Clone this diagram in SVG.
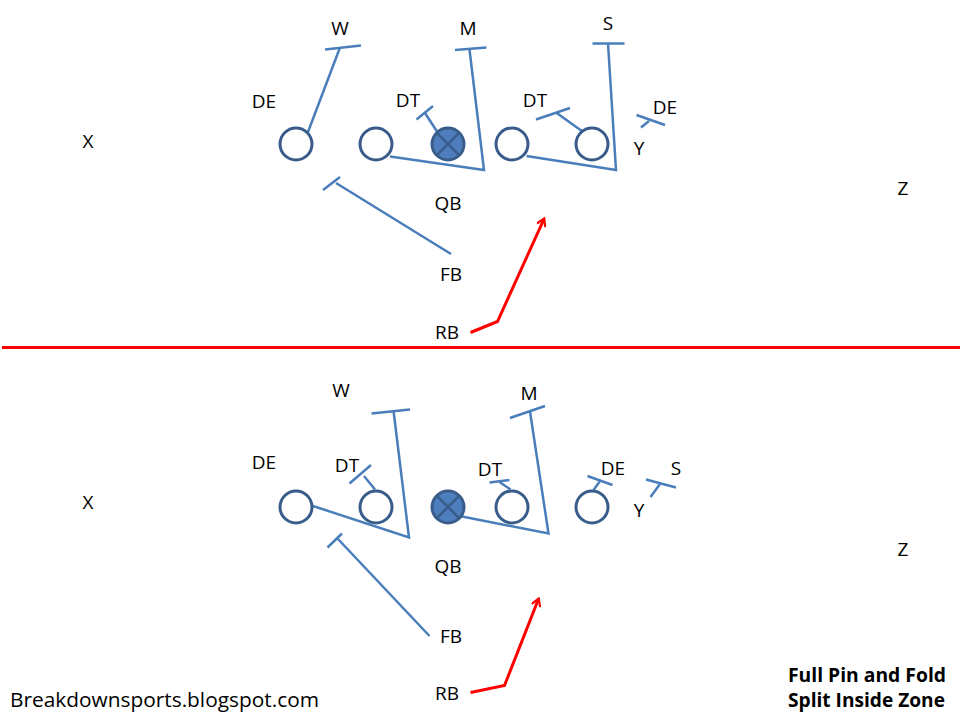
<svg xmlns="http://www.w3.org/2000/svg" width="960" height="720" viewBox="0 0 960 720">
<style>
.lbl{font-family:"Open Sans","Liberation Sans",sans-serif;font-size:19px;fill:#000;text-anchor:middle}
.foot{font-family:"Open Sans","Liberation Sans",sans-serif;font-size:19.5px;fill:#000}
.title{font-family:"Open Sans","Liberation Sans",sans-serif;font-size:20px;font-weight:bold;fill:#000}
.pl{fill:#fff;stroke:#385D8A;stroke-width:3}
.ctr{fill:#4F7EBE;stroke:#385D8A;stroke-width:3}
.x{stroke:#385D8A;stroke-width:2.5}
.blk{fill:none;stroke:#4A7EBB;stroke-width:2.5;stroke-linejoin:miter}
.run{fill:none;stroke:#FF0000;stroke-width:3;stroke-linejoin:miter}
</style>
<defs>
<marker id="open" markerWidth="10" markerHeight="10" refX="8" refY="5" orient="auto" markerUnits="userSpaceOnUse" viewBox="0 0 10 10">
<path d="M1,0.5 L8.5,5 L1,9.5" fill="none" stroke="#FF0000" stroke-width="2.2"/>
</marker>
</defs>
<rect width="960" height="720" fill="#fff"/>

<g id="connectors">
<!-- top -->
<path class="blk" d="M308,132 L340,47.5"/>
<path class="blk" d="M325,49.5 L361,45.5"/>
<path class="blk" d="M390,156.5 L484,170 L469.5,49.5"/>
<path class="blk" d="M455,50 L486.5,47.5"/>
<path class="blk" d="M437,131.5 L425,113"/>
<path class="blk" d="M416.5,119.5 L433,106"/>
<path class="blk" d="M526.5,156 L616,170 L608,43.5"/>
<path class="blk" d="M592.5,43.5 L624.5,43.5"/>
<path class="blk" d="M582.5,131.5 L556,112.5"/>
<path class="blk" d="M536,119.5 L570,108"/>
<path class="blk" d="M641,127.5 L649,121"/>
<path class="blk" d="M636.5,115 L665,125"/>
<path class="blk" d="M451,254 L336,183"/>
<path class="blk" d="M323,190 L340,177"/>
<path class="run" d="M470.5,332.5 L497.5,321.5 L544,219" marker-end="url(#open)"/>
<!-- divider -->
<path d="M2,347.5 L960,347.5" stroke="#FF0000" stroke-width="3"/>
<!-- bottom -->
<path class="blk" d="M313,506 L409,537.5 L393.5,410.5"/>
<path class="blk" d="M371.5,413.5 L410,409.5"/>
<path class="blk" d="M375,489.5 L364,476"/>
<path class="blk" d="M349.5,483.5 L371,465"/>
<path class="blk" d="M462,516.5 L548.5,533.5 L530,411.5"/>
<path class="blk" d="M510,418 L545,406"/>
<path class="blk" d="M510.5,489.5 L499.5,482"/>
<path class="blk" d="M489.5,482.5 L509.5,480"/>
<path class="blk" d="M593.5,490 L600,481"/>
<path class="blk" d="M587.5,476 L612.5,485"/>
<path class="blk" d="M650.5,497 L660,484"/>
<path class="blk" d="M646,479.5 L676,487.5"/>
<path class="blk" d="M429.5,636 L337.5,538.5"/>
<path class="blk" d="M327.5,547.5 L342,533.5"/>
<path class="run" d="M470.5,692.5 L504.5,685.5 L538.5,599" marker-end="url(#open)"/>
</g>

<!-- top formation -->
<g id="top-LT"><circle class="pl" cx="296" cy="144" r="16"/></g>
<g id="top-LG"><circle class="pl" cx="376" cy="144" r="16"/></g>
<g id="top-C"><circle class="ctr" cx="448" cy="144" r="16"/><path class="x" d="M436.7,132.7 L459.3,155.3 M459.3,132.7 L436.7,155.3"/></g>
<g id="top-RG"><circle class="pl" cx="512" cy="144" r="16"/></g>
<g id="top-RT"><circle class="pl" cx="592" cy="144" r="16"/></g>

<g id="top-labels">
<text class="lbl" x="340" y="35">W</text>
<text class="lbl" x="468" y="35">M</text>
<text class="lbl" x="608" y="30">S</text>
<text class="lbl" x="264" y="107.5">DE</text>
<text class="lbl" x="408" y="107">DT</text>
<text class="lbl" x="535" y="107">DT</text>
<text class="lbl" x="665" y="113.5">DE</text>
<text class="lbl" x="639" y="155">Y</text>
<text class="lbl" x="88" y="147.5">X</text>
<text class="lbl" x="903" y="194.5">Z</text>
<text class="lbl" x="448" y="210">QB</text>
<text class="lbl" x="451" y="280.5">FB</text>
<text class="lbl" x="447" y="338.5">RB</text>
</g>

<!-- bottom formation -->
<g id="bot-LT"><circle class="pl" cx="296" cy="507" r="16"/></g>
<g id="bot-LG"><circle class="pl" cx="376" cy="507" r="16"/></g>
<g id="bot-C"><circle class="ctr" cx="448" cy="507" r="16"/><path class="x" d="M436.7,495.7 L459.3,518.3 M459.3,495.7 L436.7,518.3"/></g>
<g id="bot-RG"><circle class="pl" cx="512" cy="507" r="16"/></g>
<g id="bot-RT"><circle class="pl" cx="592" cy="507" r="16"/></g>

<g id="bot-labels">
<text class="lbl" x="341" y="396.5">W</text>
<text class="lbl" x="529" y="400">M</text>
<text class="lbl" x="264" y="469">DE</text>
<text class="lbl" x="347" y="471.5">DT</text>
<text class="lbl" x="490" y="476">DT</text>
<text class="lbl" x="613" y="475">DE</text>
<text class="lbl" x="676" y="475">S</text>
<text class="lbl" x="639" y="516.5">Y</text>
<text class="lbl" x="88" y="508.5">X</text>
<text class="lbl" x="903" y="555.5">Z</text>
<text class="lbl" x="448" y="573">QB</text>
<text class="lbl" x="451" y="643">FB</text>
<text class="lbl" x="447" y="700">RB</text>
</g>

<g id="footer">
<text class="foot" x="10" y="707.3" textLength="309" lengthAdjust="spacingAndGlyphs">Breakdownsports.blogspot.com</text>
<text class="title" x="788" y="681.7" textLength="158" lengthAdjust="spacingAndGlyphs">Full Pin and Fold</text>
<text class="title" x="788" y="707.3" textLength="157" lengthAdjust="spacingAndGlyphs">Split Inside Zone</text>
</g>
</svg>
